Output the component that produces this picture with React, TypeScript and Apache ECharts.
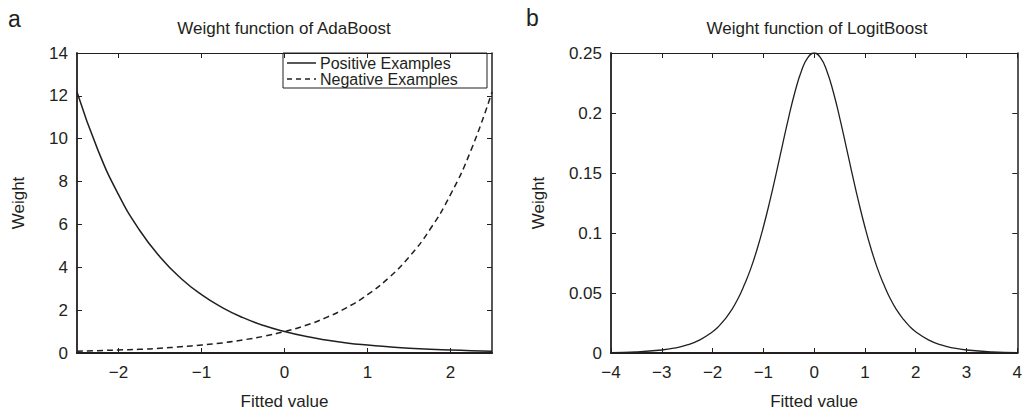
import React, { useEffect, useRef } from "react";
import * as echarts from "echarts";

const adaX = [-2.5, -2.25, -2, -1.75, -1.5, -1.25, -1, -0.75, -0.5, -0.25, 0, 0.25, 0.5, 0.75, 1, 1.25, 1.5, 1.75, 2, 2.25, 2.5];
const positiveW = [12.18, 9.49, 7.39, 5.75, 4.48, 3.49, 2.72, 2.12, 1.65, 1.28, 1.0, 0.78, 0.61, 0.47, 0.37, 0.29, 0.22, 0.17, 0.14, 0.11, 0.08];
const negativeW = [0.08, 0.11, 0.14, 0.17, 0.22, 0.29, 0.37, 0.47, 0.61, 0.78, 1.0, 1.28, 1.65, 2.12, 2.72, 3.49, 4.48, 5.75, 7.39, 9.49, 12.18];
const adaTicks = [-2, -1, 0, 1, 2];

const logitX = [-4, -3.5, -3, -2.75, -2.5, -2.25, -2, -1.875, -1.75, -1.625, -1.5, -1.375, -1.25, -1.125, -1, -0.875, -0.75, -0.625, -0.5, -0.375, -0.25, -0.125, 0, 0.125, 0.25, 0.375, 0.5, 0.625, 0.75, 0.875, 1, 1.125, 1.25, 1.375, 1.5, 1.625, 1.75, 1.875, 2, 2.25, 2.5, 2.75, 3, 3.5, 4];
const logitW = [0.0003, 0.0009, 0.0025, 0.0041, 0.0067, 0.0109, 0.0177, 0.0224, 0.0285, 0.0359, 0.0452, 0.0568, 0.0701, 0.0863, 0.105, 0.1261, 0.1491, 0.1731, 0.1966, 0.2179, 0.235, 0.2461, 0.25, 0.2461, 0.235, 0.2179, 0.1966, 0.1731, 0.1491, 0.1261, 0.105, 0.0863, 0.0701, 0.0568, 0.0452, 0.0359, 0.0285, 0.0224, 0.0177, 0.0109, 0.0067, 0.0041, 0.0025, 0.0009, 0.0003];

const legendNames = ["Positive Examples", "Negative Examples"];

const INK = "#231f20";
const FONT = "'Liberation Sans', Arial, Helvetica, sans-serif";

const fmt = (v: number) => (v < 0 ? "\u2212" + Math.abs(v) : String(v));

export default function App() {
  const ref = useRef<HTMLDivElement>(null);
  useEffect(() => {
    if (!ref.current) return;
    const chart = echarts.init(ref.current, null, { renderer: "svg" });
    const line = (w: number) => ({ show: true, onZero: false, lineStyle: { color: INK, width: w } });
    const tick = { show: true, inside: true, length: 5, lineStyle: { color: INK, width: 1 } };
    const label = { color: INK, fontFamily: FONT, fontSize: 17, formatter: fmt };
    const nameStyle = { color: INK, fontFamily: FONT, fontSize: 17 };

    const xAxes: any[] = [
      {
        type: "value", gridIndex: 0, position: "bottom", min: -2.5, max: 2.5,
        axisLine: line(2.2), axisTick: { ...tick, customValues: adaTicks },
        axisLabel: { ...label, customValues: adaTicks, margin: 11 },
        splitLine: { show: false }, z: 5,
        name: "Fitted value", nameLocation: "middle", nameGap: 40, nameTextStyle: nameStyle,
      },
      {
        type: "value", gridIndex: 0, position: "top", min: -2.5, max: 2.5,
        axisLine: line(1.2), axisTick: { ...tick, customValues: adaTicks },
        axisLabel: { show: false }, splitLine: { show: false },
      },
      {
        type: "value", gridIndex: 1, position: "bottom", min: -4, max: 4, interval: 1,
        axisLine: line(2.2), axisTick: tick, axisLabel: { ...label, margin: 11 }, splitLine: { show: false }, z: 5,
        name: "Fitted value", nameLocation: "middle", nameGap: 40, nameTextStyle: nameStyle,
      },
      {
        type: "value", gridIndex: 1, position: "top", min: -4, max: 4, interval: 1,
        axisLine: line(1.2), axisTick: tick, axisLabel: { show: false }, splitLine: { show: false },
      },
    ];
    const yAxes: any[] = [
      {
        type: "value", gridIndex: 0, position: "left", min: 0, max: 14, interval: 2,
        axisLine: line(1.8), axisTick: tick, axisLabel: { ...label, margin: 9 }, splitLine: { show: false },
        name: "Weight", nameLocation: "middle", nameGap: 50, nameTextStyle: nameStyle,
      },
      {
        type: "value", gridIndex: 0, position: "right", min: 0, max: 14, interval: 2,
        axisLine: line(1.5), axisTick: tick, axisLabel: { show: false }, splitLine: { show: false },
      },
      {
        type: "value", gridIndex: 1, position: "left", min: 0, max: 0.25, interval: 0.05,
        axisLine: line(1.8), axisTick: tick, axisLabel: { ...label, margin: 9 }, splitLine: { show: false },
        name: "Weight", nameLocation: "middle", nameGap: 64, nameTextStyle: nameStyle,
      },
      {
        type: "value", gridIndex: 1, position: "right", min: 0, max: 0.25, interval: 0.05,
        axisLine: line(1.5), axisTick: tick, axisLabel: { show: false }, splitLine: { show: false },
      },
    ];

    const lgLeft = 283, lgTop = 53, lgW = 204, rowH = 16;
    const legendGraphic = {
      type: "group",
      z: 100,
      children: [
        { type: "rect", shape: { x: lgLeft, y: lgTop, width: lgW, height: rowH * 2 + 3 },
          style: { fill: "#ffffff", stroke: INK, lineWidth: 1 } },
        { type: "line", shape: { x1: lgLeft + 4, y1: lgTop + 2 + rowH / 2, x2: lgLeft + 33, y2: lgTop + 2 + rowH / 2 },
          style: { stroke: INK, lineWidth: 1.5 } },
        { type: "line", shape: { x1: lgLeft + 4, y1: lgTop + 2 + rowH * 1.5, x2: lgLeft + 33, y2: lgTop + 2 + rowH * 1.5 },
          style: { stroke: INK, lineWidth: 1.5, lineDash: [5, 4] } },
        { type: "text", x: lgLeft + 37, y: lgTop + 2 + rowH / 2,
          style: { text: legendNames[0], fill: INK, font: `16px ${FONT}`, verticalAlign: "middle" } },
        { type: "text", x: lgLeft + 37, y: lgTop + 2 + rowH * 1.5,
          style: { text: legendNames[1], fill: INK, font: `16px ${FONT}`, verticalAlign: "middle" } },
      ],
    };

    chart.setOption({
      animation: false,
      backgroundColor: "#ffffff",
      grid: [
        { left: 77, top: 53, width: 415, height: 304 },
        { left: 611, top: 53, width: 414, height: 304 },
      ],
      xAxis: xAxes,
      yAxis: yAxes,
      title: [
        { text: "Weight function of AdaBoost", left: 284, top: 20, padding: 0, textAlign: "center",
          textStyle: { color: INK, fontFamily: FONT, fontSize: 17, fontWeight: "normal" } },
        { text: "Weight function of LogitBoost", left: 817, top: 20, padding: 0, textAlign: "center",
          textStyle: { color: INK, fontFamily: FONT, fontSize: 17, fontWeight: "normal" } },
        { text: "a", left: 8, top: 7, padding: 0, textStyle: { color: INK, fontFamily: FONT, fontSize: 23, fontWeight: "normal" } },
        { text: "b", left: 526, top: 6, padding: 0, textStyle: { color: INK, fontFamily: FONT, fontSize: 23, fontWeight: "normal" } },
      ],
      graphic: [legendGraphic],
      series: [
        {
          name: legendNames[0], type: "line", xAxisIndex: 0, yAxisIndex: 0,
          data: adaX.map((x, i) => [x, positiveW[i]]), smooth: true, showSymbol: false,
          symbol: "none", lineStyle: { color: INK, width: 1.5 }, itemStyle: { color: INK },
        },
        {
          name: legendNames[1], type: "line", xAxisIndex: 0, yAxisIndex: 0,
          data: adaX.map((x, i) => [x, negativeW[i]]), smooth: true, showSymbol: false,
          symbol: "none", lineStyle: { color: INK, width: 1.5, type: [6, 4] }, itemStyle: { color: INK },
        },
        {
          name: "LogitBoost", type: "line", xAxisIndex: 2, yAxisIndex: 2,
          data: logitX.map((x, i) => [x, logitW[i]]), smooth: true, showSymbol: false,
          symbol: "none", lineStyle: { color: INK, width: 1.3 }, itemStyle: { color: INK },
        },
      ],
    });
    return () => chart.dispose();
  }, []);
  return <div ref={ref} style={{ width: 1025, height: 415, position: "absolute", left: 0, top: 0 }} />;
}
